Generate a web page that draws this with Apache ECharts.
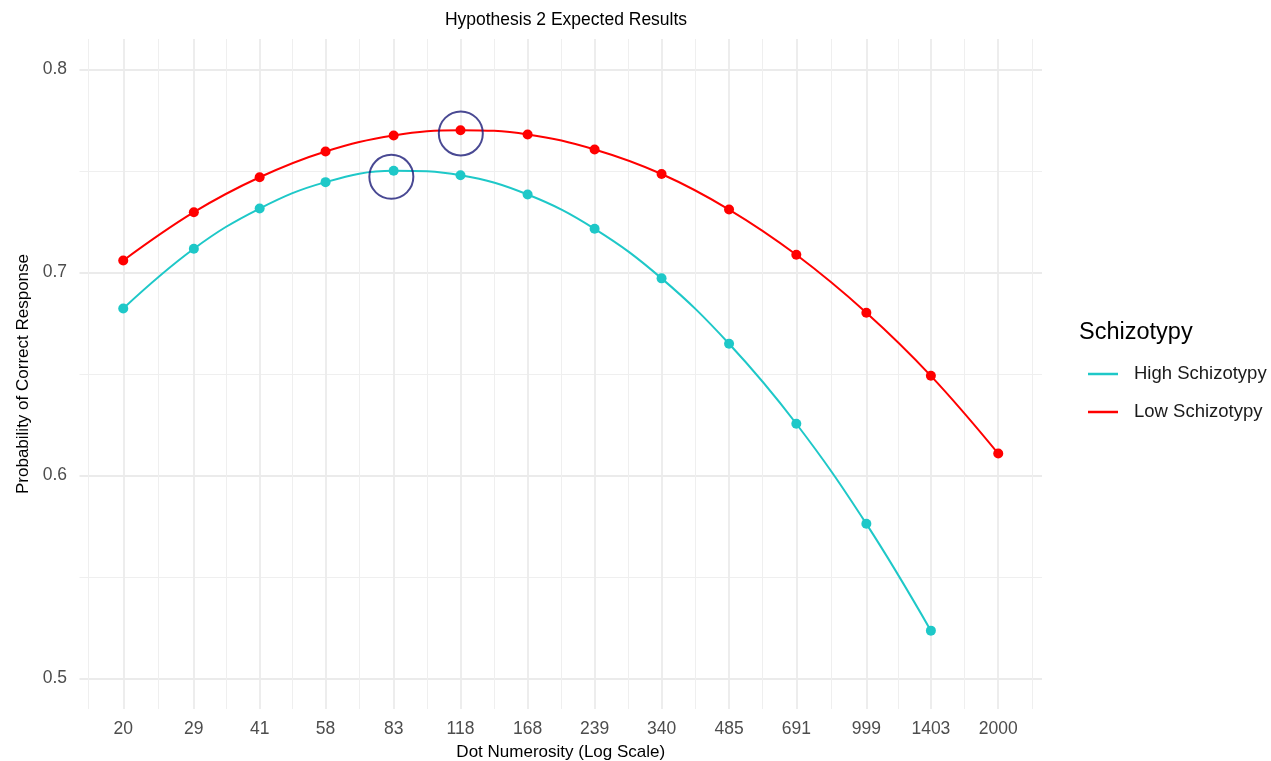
<!DOCTYPE html>
<html>
<head>
<meta charset="utf-8">
<script src="https://cdn.jsdelivr.net/npm/echarts@6/dist/echarts.min.js"></script>
<style>
  html, body { margin: 0; padding: 0; background: #fff; }
  #chart { width: 1271px; height: 761px; }
</style>
</head>
<body>
<div id="chart"></div>
<script>
// dot numerosity (x, log scale)
const numerosity = [20, 29, 41, 58, 83, 118, 168, 239, 340, 485, 691, 999, 1403, 2000];
// expected probability of a correct response
const highSchizotypy = [0.6823, 0.7117, 0.7315, 0.7445, 0.7501, 0.7479, 0.7384, 0.7215, 0.6971, 0.6649, 0.6255, 0.5762, 0.5236];
const lowSchizotypy = [0.7059, 0.7297, 0.7469, 0.7596, 0.7675, 0.7701, 0.7680, 0.7606, 0.7485, 0.7310, 0.7087, 0.6802, 0.6491, 0.6108];
// circled peaks
const peakX = [82, 118.2];
const peakY = [0.7471, 0.7685];
// y breaks
const yBreaks = [0.5, 0.6, 0.7, 0.8];
const yMinorBreaks = [0.55, 0.65, 0.75];
const yMin = 0.485, yMax = 0.815;

const FONT = 'Liberation Sans, Arial, Helvetica, sans-serif';

// log-scale limits with 5% expansion, like ggplot
const logLo = Math.log10(numerosity[0]);
const logHi = Math.log10(numerosity[numerosity.length - 1]);
const pad = 0.05 * (logHi - logLo);
const xLo = logLo - pad, xHi = logHi + pad;

// major / minor guide positions in log units
const logBreaks = numerosity.map(v => Math.log10(v));
const logMinor = [];
logMinor.push(logBreaks[0] - (logBreaks[1] - logBreaks[0]) / 2);
for (let i = 0; i < logBreaks.length - 1; i++) {
  logMinor.push((logBreaks[i] + logBreaks[i + 1]) / 2);
}
const n = logBreaks.length;
logMinor.push(logBreaks[n - 1] + (logBreaks[n - 1] - logBreaks[n - 2]) / 2);

const toPairs = vals => vals.map((v, i) => [numerosity[i], v]);

const majorLine = { show: true, lineStyle: { color: '#ebebeb', width: 1.8 } };
const minorLine = { show: true, lineStyle: { color: '#efefef', width: 1 } };

const chart = echarts.init(document.getElementById('chart'));
chart.setOption({
  animation: false,
  backgroundColor: '#fff',
  textStyle: { fontFamily: FONT },
  title: {
    text: 'Hypothesis 2 Expected Results',
    left: 561,
    top: 6,
    textAlign: 'center',
    textStyle: { fontSize: 17.5, fontWeight: 'normal', color: '#000', fontFamily: FONT }
  },
  grid: { left: 79.5, right: 229, top: 39, bottom: 52, outerBoundsMode: 'none' },
  legend: {
    data: ['High Schizotypy', 'Low Schizotypy'],
    orient: 'vertical',
    left: 1083,
    top: 358,
    icon: 'rect',
    itemWidth: 30,
    itemHeight: 2.5,
    itemGap: 16,
    textStyle: { fontSize: 18.5, color: '#1a1a1a', lineHeight: 22, padding: [0, 0, 0, 11], fontFamily: FONT }
  },
  graphic: [{
    type: 'text',
    left: 1079,
    top: 321,
    style: { text: 'Schizotypy', fontSize: 23.5, fill: '#000', fontFamily: FONT }
  }],
  xAxis: [
    {
      type: 'log',
      min: Math.pow(10, xLo),
      max: Math.pow(10, xHi),
      show: false
    },
    {
      type: 'value',
      min: xLo,
      max: xHi,
      position: 'bottom',
      axisLine: { show: false },
      axisTick: { show: false, customValues: logBreaks },
      axisLabel: {
        customValues: logBreaks,
        formatter: v => String(Math.round(Math.pow(10, v))),
        fontSize: 17.5,
        color: '#4d4d4d',
        margin: 11
      },
      splitLine: majorLine,
      name: 'Dot Numerosity (Log Scale)',
      nameLocation: 'middle',
      nameGap: 35,
      nameTextStyle: { fontSize: 17, color: '#000' }
    },
    {
      type: 'value',
      min: xLo,
      max: xHi,
      position: 'bottom',
      axisLine: { show: false },
      axisTick: { show: false, customValues: logMinor },
      axisLabel: { show: false },
      splitLine: minorLine
    }
  ],
  yAxis: [
    {
      type: 'value',
      min: yMin,
      max: yMax,
      position: 'left',
      axisLine: { show: false },
      axisTick: { show: false, customValues: yBreaks },
      axisLabel: {
        customValues: yBreaks,
        formatter: v => v.toFixed(1),
        fontSize: 17.5,
        color: '#4d4d4d',
        margin: 12.5
      },
      splitLine: majorLine,
      name: 'Probability of Correct Response',
      nameLocation: 'middle',
      nameGap: 43,
      nameTextStyle: { fontSize: 17, color: '#000' }
    },
    {
      type: 'value',
      min: yMin,
      max: yMax,
      position: 'left',
      axisLine: { show: false },
      axisTick: { show: false, customValues: yMinorBreaks },
      axisLabel: { show: false },
      splitLine: minorLine
    }
  ],
  series: [
    {
      name: 'High Schizotypy',
      type: 'line',
      xAxisIndex: 0,
      yAxisIndex: 0,
      data: toPairs(highSchizotypy),
      smooth: 0.4,
      symbol: 'circle',
      symbolSize: 10,
      color: '#1ec8c8',
      lineStyle: { width: 2, color: '#1ec8c8' },
      itemStyle: { color: '#1ec8c8' },
      z: 3
    },
    {
      name: 'Low Schizotypy',
      type: 'line',
      xAxisIndex: 0,
      yAxisIndex: 0,
      data: toPairs(lowSchizotypy),
      smooth: 0.4,
      symbol: 'circle',
      symbolSize: 10,
      color: '#ff0000',
      lineStyle: { width: 2, color: '#ff0000' },
      itemStyle: { color: '#ff0000' },
      z: 3
    },
    {
      name: 'peak',
      type: 'scatter',
      xAxisIndex: 0,
      yAxisIndex: 0,
      data: peakX.map((x, i) => [x, peakY[i]]),
      symbol: 'circle',
      symbolSize: 44,
      itemStyle: { color: 'rgba(0,0,0,0)', borderColor: '#1c1c78', borderWidth: 2 },
      silent: true,
      z: 4
    }
  ]
});
</script>
</body>
</html>
